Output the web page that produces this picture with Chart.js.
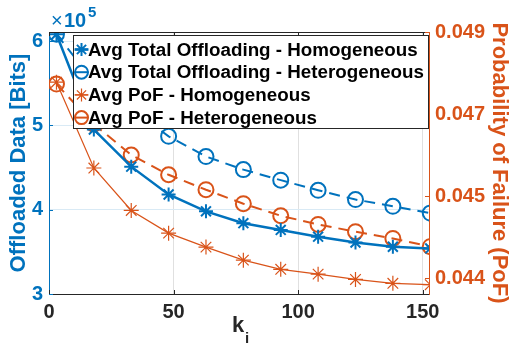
<!DOCTYPE html>
<html>
<head>
<meta charset="utf-8">
<script src="https://cdn.jsdelivr.net/npm/chart.js@4.4.1/dist/chart.umd.min.js"></script>
<style>
  html, body { margin: 0; padding: 0; background: #fff; }
  #wrap { width: 510px; height: 346px; }
</style>
</head>
<body>
<div id="wrap"><canvas id="chart"></canvas></div>
<script>
// k_i values on the x axis
const kValues = [3, 18, 33, 48, 63, 78, 93, 108, 123, 138, 153];

// Avg total offloaded data [Bits] (left axis)
const offloadHomogeneous = [608000, 495000, 451000, 418000, 398000, 384000, 376000, 368000, 361000, 356000, 354000];
const offloadHeterogeneous = [608000, 552000, 520000, 487000, 463000, 447500, 435000, 423000, 412000, 404000, 396000];

// Avg probability of failure (right axis)
const pofHomogeneous = [0.04776, 0.04598, 0.04510, 0.04463, 0.04434, 0.04407, 0.04388, 0.04378, 0.04367, 0.04359, 0.04356];
const pofHeterogeneous = [0.04772, 0.04689, 0.04625, 0.04584, 0.04553, 0.04524, 0.04499, 0.04481, 0.04466, 0.04452, 0.04435];

const seriesLabels = [
  'Avg Total Offloading - Homogeneous',
  'Avg Total Offloading - Heterogeneous',
  'Avg PoF - Homogeneous',
  'Avg PoF - Heterogeneous'
];

// ticks
const xTicks = [0, 50, 100, 150];
const leftTicks = [300000, 400000, 500000, 600000];
const rightTicks = [0.0437, 0.0454, 0.0471, 0.0488];

const BLUE = '#0072BD';
const ORANGE = '#D95319';
const AXIS = '#262626';
const FONT = "'Liberation Sans', Arial, Helvetica, sans-serif";

Chart.defaults.font.family = FONT;

const toXY = ys => ys.map((y, i) => ({ x: kValues[i], y: y }));
const setTicks = list => scale => { scale.ticks = list.map(v => ({ value: v })); };

function drawMarker(ctx, style, x, y, r) {
  ctx.beginPath();
  if (style === 'circle') {
    ctx.arc(x, y, r, 0, Math.PI * 2);
  } else {
    const d = r * Math.SQRT1_2;
    ctx.moveTo(x - r, y); ctx.lineTo(x + r, y);
    ctx.moveTo(x, y - r); ctx.lineTo(x, y + r);
    ctx.moveTo(x - d, y - d); ctx.lineTo(x + d, y + d);
    ctx.moveTo(x - d, y + d); ctx.lineTo(x + d, y - d);
  }
  ctx.stroke();
}

// axes box, inward ticks, legend, exponent and x label
const matlabDecor = {
  id: 'matlabDecor',
  afterDatasetsDraw(chart) {
    const { ctx, chartArea: a, scales } = chart;
    ctx.save();

    // top edge of the box
    ctx.lineWidth = 1;
    ctx.strokeStyle = AXIS;
    ctx.beginPath();
    ctx.moveTo(a.left, Math.round(a.top) + 0.5);
    ctx.lineTo(a.right, Math.round(a.top) + 0.5);
    ctx.stroke();

    // inward tick marks
    const tl = 4;
    xTicks.forEach(v => {
      const px = Math.round(scales.x.getPixelForValue(v)) + 0.5;
      ctx.beginPath();
      ctx.moveTo(px, a.bottom); ctx.lineTo(px, a.bottom - tl);
      ctx.moveTo(px, a.top); ctx.lineTo(px, a.top + tl);
      ctx.stroke();
    });
    ctx.strokeStyle = BLUE;
    leftTicks.forEach(v => {
      const py = Math.round(scales.yL.getPixelForValue(v)) + 0.5;
      ctx.beginPath(); ctx.moveTo(a.left, py); ctx.lineTo(a.left + tl, py); ctx.stroke();
    });
    ctx.strokeStyle = ORANGE;
    rightTicks.forEach(v => {
      const py = Math.round(scales.yR.getPixelForValue(v)) + 0.5;
      ctx.beginPath(); ctx.moveTo(a.right, py); ctx.lineTo(a.right - tl, py); ctx.stroke();
    });

    // legend box
    const lx = a.left + 24, ly = a.top + 3, lw = a.right - 1 - lx, lh = 93;
    ctx.fillStyle = '#ffffff';
    ctx.fillRect(lx, ly, lw, lh);
    ctx.strokeStyle = AXIS;
    ctx.lineWidth = 1;
    ctx.strokeRect(Math.round(lx) + 0.5, Math.round(ly) + 0.5, Math.round(lw), Math.round(lh));

    ctx.font = 'bold 18.8px ' + FONT;
    ctx.textBaseline = 'middle';
    ctx.textAlign = 'left';
    chart.data.datasets.forEach((ds, i) => {
      const cy = ly + 14.5 + i * 22.7;
      const cx = lx + 8.5;
      ctx.strokeStyle = ds.borderColor;
      ctx.lineWidth = ds.borderWidth;
      ctx.setLineDash([]);
      ctx.beginPath(); ctx.moveTo(cx - 7, cy); ctx.lineTo(cx + 7, cy); ctx.stroke();
      ctx.lineWidth = ds.pointBorderWidth;
      drawMarker(ctx, ds.pointStyle, cx, cy, 6.5);
      ctx.fillStyle = '#000000';
      ctx.fillText(ds.label, lx + 15, cy + 1);
    });

    // exponent of the left axis
    ctx.fillStyle = BLUE;
    ctx.textBaseline = 'alphabetic';
    ctx.font = '20px ' + FONT;
    ctx.fillText('\u00d7', a.left + 2, 27);
    ctx.font = 'bold 20px ' + FONT;
    ctx.fillText('10', a.left + 15, 27);
    ctx.font = 'bold 15px ' + FONT;
    ctx.fillText('5', a.left + 39, 17);

    // x axis label k_i
    ctx.fillStyle = AXIS;
    ctx.font = 'bold 22px ' + FONT;
    ctx.fillText('k', 232, 332);
    ctx.font = 'bold 15px ' + FONT;
    ctx.fillText('i', 245, 343);

    ctx.restore();
  }
};

new Chart(document.getElementById('chart'), {
  type: 'line',
  data: {
    datasets: [
      {
        label: seriesLabels[0],
        data: toXY(offloadHomogeneous),
        yAxisID: 'yL',
        borderColor: BLUE,
        borderWidth: 2.5,
        pointStyle: 'star',
        pointRadius: 7,
        pointBorderWidth: 2,
        pointBorderColor: BLUE,
        pointBackgroundColor: 'rgba(0,0,0,0)'
      },
      {
        label: seriesLabels[1],
        data: toXY(offloadHeterogeneous),
        yAxisID: 'yL',
        borderColor: BLUE,
        borderWidth: 2,
        borderDash: [11, 7],
        pointStyle: 'circle',
        pointRadius: 7.5,
        pointBorderWidth: 2,
        pointBorderColor: BLUE,
        pointBackgroundColor: 'rgba(0,0,0,0)'
      },
      {
        label: seriesLabels[2],
        data: toXY(pofHomogeneous),
        yAxisID: 'yR',
        borderColor: ORANGE,
        borderWidth: 1.2,
        pointStyle: 'star',
        pointRadius: 7.5,
        pointBorderWidth: 1.2,
        pointBorderColor: ORANGE,
        pointBackgroundColor: 'rgba(0,0,0,0)'
      },
      {
        label: seriesLabels[3],
        data: toXY(pofHeterogeneous),
        yAxisID: 'yR',
        borderColor: ORANGE,
        borderWidth: 2,
        borderDash: [11, 7],
        pointStyle: 'circle',
        pointRadius: 7.5,
        pointBorderWidth: 2,
        pointBorderColor: ORANGE,
        pointBackgroundColor: 'rgba(0,0,0,0)'
      }
    ]
  },
  options: {
    responsive: true,
    maintainAspectRatio: false,
    animation: false,
    layout: { padding: { top: 32, left: 0, right: 0, bottom: 0 } },
    plugins: {
      legend: { display: false },
      tooltip: { enabled: false }
    },
    scales: {
      x: {
        type: 'linear',
        position: 'bottom',
        min: 0,
        max: 152.5,
        afterBuildTicks: setTicks(xTicks),
        afterFit: s => { s.height = 52; },
        grid: {
          drawTicks: false,
          color: c => (c.tick && c.tick.value === 0) ? 'rgba(0,0,0,0)' : '#e0e0e0'
        },
        border: { color: AXIS, width: 1 },
        ticks: {
          color: AXIS,
          padding: 6,
          font: { size: 20, weight: 'bold' },
          maxRotation: 0
        }
      },
      yL: {
        type: 'linear',
        position: 'left',
        min: 300000,
        max: 610700,
        afterBuildTicks: setTicks(leftTicks),
        afterFit: s => { s.width = 49; },
        grid: {
          drawTicks: false,
          color: c => (c.tick && c.tick.value === 300000) ? 'rgba(0,0,0,0)' : '#d9eaf5'
        },
        border: { color: BLUE, width: 1 },
        ticks: {
          color: BLUE,
          padding: 6,
          font: { size: 20, weight: 'bold' },
          callback: v => String(Math.round(v / 100000))
        },
        title: {
          display: true,
          text: 'Offloaded Data [Bits]',
          color: BLUE,
          font: { size: 22, weight: 'bold', lineHeight: 1 },
          padding: { top: 7.5, bottom: 0 }
        }
      },
      yR: {
        type: 'linear',
        position: 'right',
        min: 0.043368,
        max: 0.0488,
        afterBuildTicks: setTicks(rightTicks),
        afterFit: s => { s.width = 81; },
        grid: { drawTicks: false, drawOnChartArea: false },
        border: { color: ORANGE, width: 1 },
        ticks: {
          color: ORANGE,
          padding: 6,
          font: { size: 20, weight: 'bold' },
          callback: v => v.toFixed(3)
        },
        title: {
          display: true,
          text: 'Probability of Failure (PoF)',
          color: ORANGE,
          font: { size: 22, weight: 'bold', lineHeight: 1 },
          padding: { top: 0, bottom: 0 }
        }
      }
    }
  },
  plugins: [matlabDecor]
});
</script>
</body>
</html>
